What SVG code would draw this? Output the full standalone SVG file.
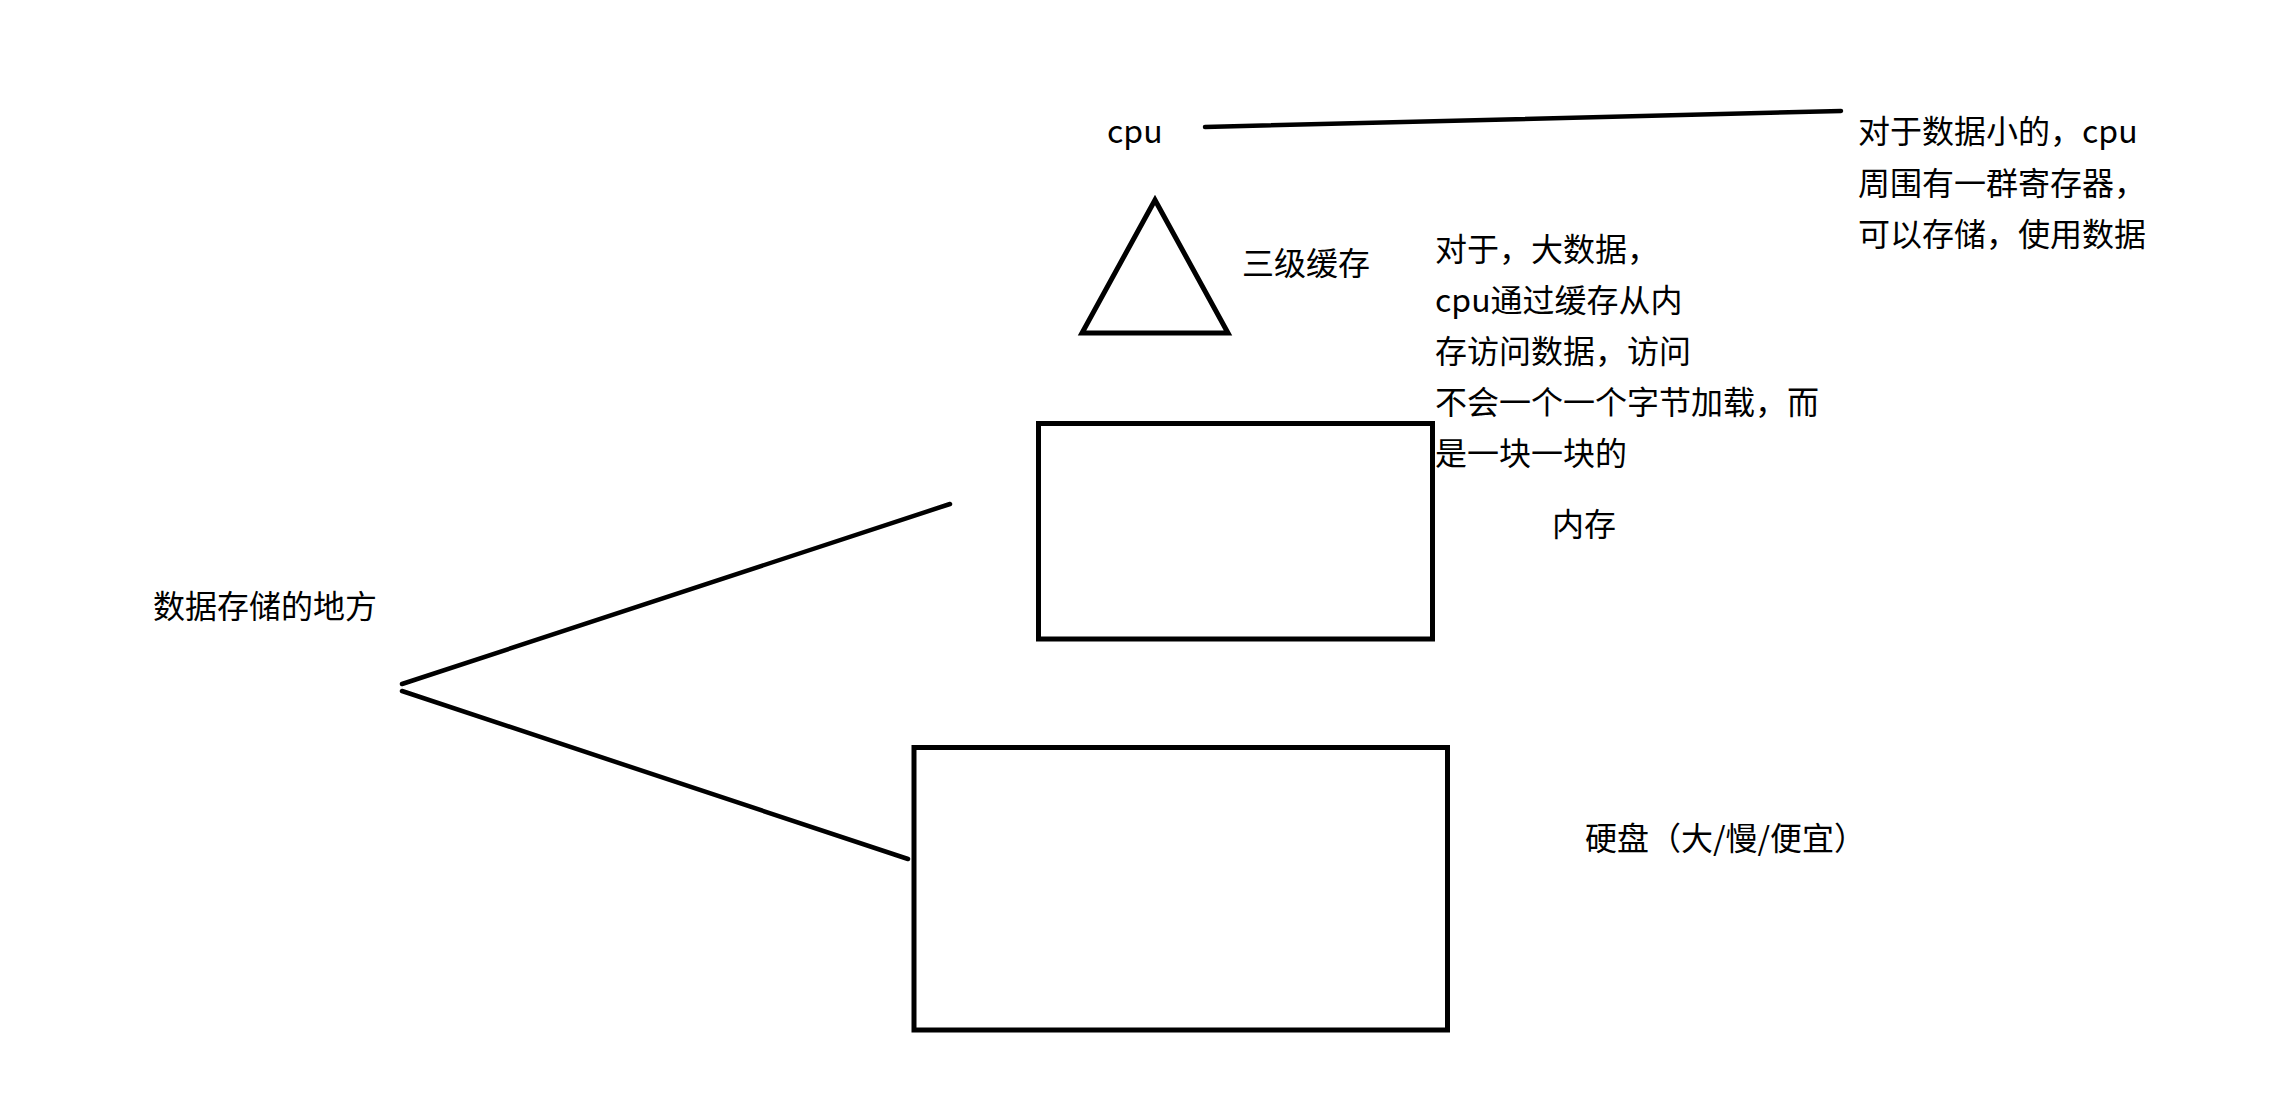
<svg xmlns="http://www.w3.org/2000/svg" width="2293" height="1115" viewBox="0 0 2293 1115">
  <style>
    .t { font-family: "Noto Sans CJK SC", "Liberation Sans", sans-serif; font-size: 32px; fill: #000; }
    .s { fill: none; stroke: #000; stroke-width: 4.5; stroke-linecap: round; stroke-linejoin: miter; }
    .b { fill: none; stroke: #000; stroke-width: 5; }
  </style>
  <rect width="2293" height="1115" fill="#fff"/>

  <g id="connectors">
    <line class="s" x1="1205" y1="127" x2="1841" y2="111"/>
    <line class="s" x1="402" y1="684" x2="950" y2="504"/>
    <line class="s" x1="402" y1="691" x2="908" y2="859"/>
  </g>

  <g id="cpu">
    <text class="t" x="1107" y="143">cpu</text>
  </g>

  <g id="cache">
    <polygon class="b" points="1155,200 1228,333 1082,333"/>
    <text class="t" x="1242" y="274.5">三级缓存</text>
  </g>

  <g id="register-note">
    <text class="t" x="1858" y="143">对于数据小的，cpu</text>
    <text class="t" x="1858" y="194.5">周围有一群寄存器，</text>
    <text class="t" x="1858" y="246">可以存储，使用数据</text>
  </g>

  <g id="bigdata-note">
    <text class="t" x="1435" y="260.5">对于，大数据，</text>
    <text class="t" x="1435" y="311.5">cpu通过缓存从内</text>
    <text class="t" x="1435" y="362.5">存访问数据，访问</text>
    <text class="t" x="1435" y="413.5">不会一个一个字节加载，而</text>
    <text class="t" x="1435" y="464.5">是一块一块的</text>
  </g>

  <g id="memory">
    <rect class="b" x="1038.5" y="423.5" width="394" height="215.5"/>
    <text class="t" x="1552" y="535.5">内存</text>
  </g>

  <g id="disk">
    <rect class="b" x="914" y="747.5" width="533.5" height="282.5"/>
    <text class="t" x="1585" y="850">硬盘（大/慢/便宜）</text>
  </g>

  <g id="storage">
    <text class="t" x="153" y="617.5">数据存储的地方</text>
  </g>
</svg>
